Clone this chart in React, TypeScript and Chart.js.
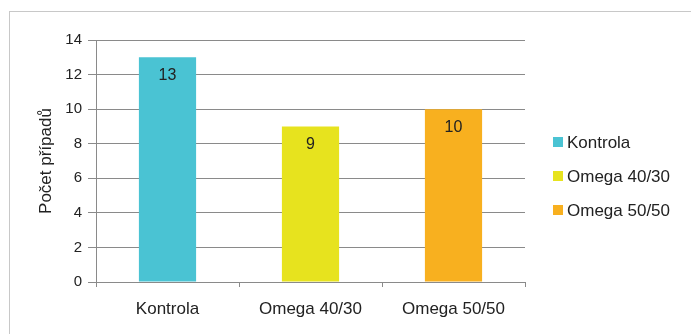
import React, { useEffect, useRef } from 'react';
import { Chart, registerables } from 'chart.js';

Chart.register(...registerables);

const categories = ['Kontrola', 'Omega 40/30', 'Omega 50/50'];
const values = [13, 9, 10];
const barColors = ['#4AC3D3', '#E7E31E', '#F8B01F'];
const yAxisTitle = 'Počet případů';
const yMin = 0;
const yMax = 14;
const yStep = 2;

const FONT = '"Liberation Sans", Arial, sans-serif';

const valueLabels = {
  id: 'valueLabels',
  afterDatasetsDraw(chart: any) {
    const ctx = chart.ctx;
    const meta = chart.getDatasetMeta(0);
    ctx.save();
    ctx.font = `16px ${FONT}`;
    ctx.fillStyle = '#222222';
    ctx.textAlign = 'center';
    ctx.textBaseline = 'middle';
    meta.data.forEach((bar: any, i: number) => {
      const v = chart.data.datasets[0].data[i];
      ctx.fillText(String(v), bar.x, bar.y + 18);
    });
    ctx.restore();
  },
};

const sideLegend = {
  id: 'sideLegend',
  afterDraw(chart: any) {
    const ctx = chart.ctx;
    const area = chart.chartArea;
    const x = area.right + 28;
    const spacing = 34;
    const cy = 176;
    const n = categories.length;
    ctx.save();
    ctx.font = `17px ${FONT}`;
    ctx.textAlign = 'left';
    ctx.textBaseline = 'middle';
    categories.forEach((c, i) => {
      const y = cy + (i - (n - 1) / 2) * spacing;
      ctx.fillStyle = barColors[i];
      ctx.fillRect(x, y - 5, 10, 10);
      ctx.fillStyle = '#222222';
      ctx.fillText(c, x + 14, y + 1);
    });
    ctx.restore();
  },
};

export default function App() {
  const ref = useRef<HTMLCanvasElement | null>(null);

  useEffect(() => {
    if (!ref.current) return;
    const chart = new Chart(ref.current, {
      type: 'bar',
      data: {
        labels: categories,
        datasets: [
          {
            label: 'Počet případů',
            data: values,
            backgroundColor: barColors,
            borderWidth: 0,
            categoryPercentage: 1,
            barPercentage: 0.4,
          },
        ],
      },
      options: {
        animation: false,
        responsive: false,
        maintainAspectRatio: false,
        layout: { padding: { left: 34, top: 40, right: 166, bottom: 15 } },
        plugins: {
          tooltip: { enabled: false },
          legend: { display: false },
        },
        scales: {
          x: {
            grid: {
              display: true,
              drawOnChartArea: false,
              drawTicks: true,
              tickLength: 5,
              color: '#8a8a8a',
              offset: true,
            },
            border: { display: true, color: '#8a8a8a' },
            ticks: {
              color: '#222222',
              font: { family: FONT, size: 17 },
              padding: 12,
            },
            afterFit: (s: any) => {
              s.height = 37;
            },
          },
          y: {
            min: yMin,
            max: yMax,
            ticks: {
              stepSize: yStep,
              color: '#222222',
              font: { family: FONT, size: 15 },
              padding: 6,
            },
            grid: {
              color: '#8a8a8a',
              tickLength: 8,
            },
            border: { display: true, color: '#8a8a8a' },
            title: {
              display: true,
              text: yAxisTitle,
              color: '#222222',
              font: { family: FONT, size: 17 },
              padding: { top: 2, bottom: 0 },
            },
            afterFit: (s: any) => {
              s.width = 62;
            },
          },
        },
      },
      plugins: [valueLabels, sideLegend],
    });
    return () => chart.destroy();
  }, []);

  return (
    <div style={{ position: 'fixed', left: 0, top: 0, width: 691, height: 334, background: '#ffffff' }}>
      <div
        style={{
          position: 'absolute',
          left: 9,
          top: 11,
          width: 700,
          height: 400,
          borderTop: '1px solid #c8c8c8',
          borderLeft: '1px solid #c8c8c8',
        }}
      />
      <canvas ref={ref} width={691} height={334} style={{ position: 'absolute', left: 0, top: 0 }} />
    </div>
  );
}
